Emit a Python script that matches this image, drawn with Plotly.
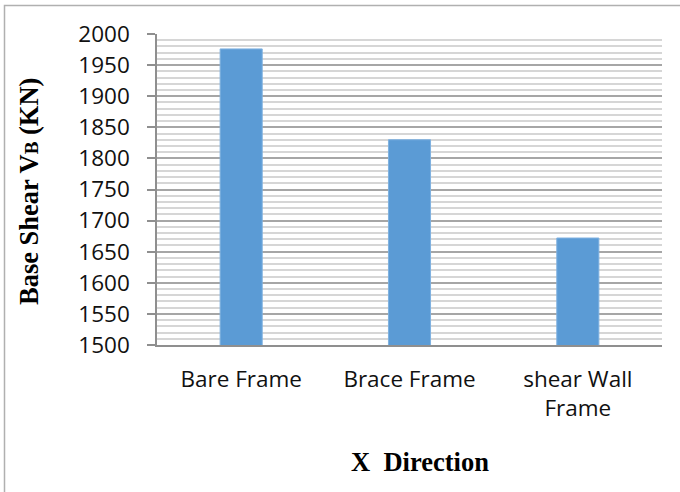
import plotly.graph_objects as go

# Base shear per structural system, X direction
categories = ["Bare Frame", "Brace Frame", "shear Wall<br>Frame"]
base_shear = [1976, 1830, 1672]
y_ticks = [1500, 1550, 1600, 1650, 1700, 1750, 1800, 1850, 1900, 1950, 2000]

W, H = 680, 492
L, R, T, B = 157, 18, 34, 147
pw, ph = W - L - R, H - T - B


def px_x(x):
    return (x - L) / pw


def px_y(y):
    return (H - B - y) / ph


fig = go.Figure(
    go.Bar(
        x=categories,
        y=base_shear,
        marker=dict(color="#5b9bd5", line=dict(color="#7fb1e0", width=1)),
    )
)

tick_font = dict(family="Open Sans", size=22.5, color="#111111")

fig.update_layout(
    width=W,
    height=H,
    margin=dict(l=L, r=R, t=T, b=B),
    paper_bgcolor="white",
    plot_bgcolor="white",
    bargap=0.75,
    showlegend=False,
    xaxis=dict(
        showline=True,
        linecolor="#8f8f8f",
        linewidth=1.5,
        showgrid=False,
        ticks="",
        tickfont=tick_font,
        ticklabelstandoff=13,
        fixedrange=True,
    ),
    yaxis=dict(
        range=[1500, 2000],
        tickvals=y_ticks,
        showline=True,
        linecolor="#8f8f8f",
        linewidth=1.5,
        ticks="outside",
        ticklen=8,
        tickwidth=1.5,
        tickcolor="#8f8f8f",
        tickfont=tick_font,
        ticklabelstandoff=13,
        showgrid=True,
        gridcolor="#a6a6a6",
        gridwidth=1.5,
        minor=dict(dtick=10, showgrid=True, gridcolor="#d6d6d6", gridwidth=1.5, ticks=""),
        zeroline=False,
        fixedrange=True,
    ),
    annotations=[
        dict(
            text="<b>X\u00a0 Direction</b>",
            xref="paper", yref="paper",
            x=px_x(420), y=px_y(462),
            xanchor="center", yanchor="middle",
            showarrow=False,
            font=dict(family="Liberation Serif", size=26.5, color="black"),
        ),
        dict(
            text="<b>Base Shear V<span style='font-size:19px'>B</span> (KN)</b>",
            xref="paper", yref="paper",
            x=px_x(29), y=px_y(192),
            xanchor="center", yanchor="middle",
            textangle=-90,
            showarrow=False,
            font=dict(family="Liberation Serif", size=26.5, color="black"),
        ),
    ],
    shapes=[
        dict(
            type="rect",
            xref="paper", yref="paper",
            x0=px_x(4.5), x1=px_x(700), y0=px_y(520), y1=px_y(5.5),
            line=dict(color="#b0b0b0", width=1.5),
            fillcolor="rgba(0,0,0,0)",
            layer="below",
        )
    ],
)

fig.write_html("out.html")
